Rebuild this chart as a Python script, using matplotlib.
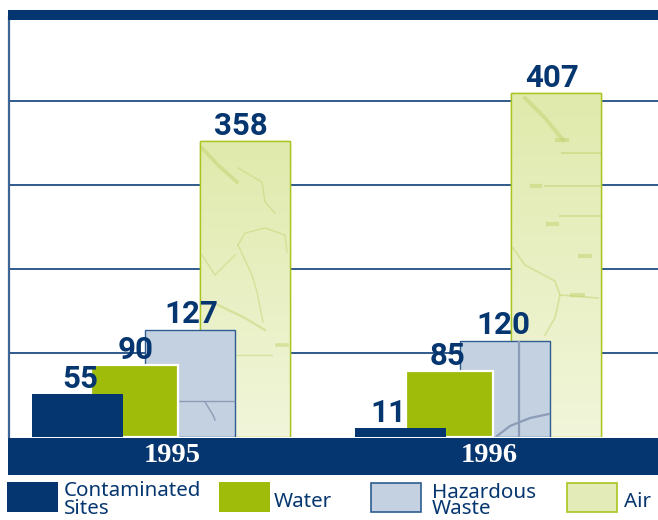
import matplotlib
matplotlib.use("Agg")
import matplotlib.pyplot as plt
import numpy as np
from matplotlib.colors import to_rgb
from matplotlib.patches import Rectangle
from matplotlib.transforms import Affine2D

years = ["1995", "1996"]
series_names = ["Air", "Hazardous Waste", "Water", "Contaminated Sites"]
labels_air = [358, 407]
labels_hazard = [127, 120]
labels_water = [90, 85]
labels_sites = [55, 11]
# bar heights as measured on the picture's gridlines (gridlines every 100)
heights_air = [352, 410]
heights_hazard = [127, 114]
heights_water = [86, 79]
heights_sites = [51, 11]

W, H = 658, 520
NAVY = "#06366f"
GREEN = "#a0bc0a"
fig = plt.figure(figsize=(W / 100, H / 100), dpi=100, facecolor="white")
L, R, T, B = 9, 658, 17, 437
ax = fig.add_axes([L / W, 1 - B / H, (R - L) / W, (B - T) / H])
ax.set_xlim(L, R)
ax.set_ylim(0, 500)
ax.set_xticks([])
ax.set_yticks([100, 200, 300, 400])
ax.tick_params(left=False, labelleft=False)
ax.grid(axis="y", color="#0d3d78", lw=1.2)
ax.set_axisbelow(True)
for s in ["top", "right", "bottom"]:
    ax.spines[s].set_visible(False)
ax.spines["left"].set_color("#3d6597")
ax.spines["left"].set_linewidth(1.6)

styles = [
    ("air", heights_air, labels_air, [245, 556], 90, "#e3ecb9", "#aac520", 1.0, 3),
    ("haz", heights_hazard, labels_hazard, [190, 505], 90, "#c4d1e1", "#2f5c91", 1.0, 5),
    ("wat", heights_water, labels_water, [134.5, 449], 87, GREEN, "white", 1.6, 7),
    ("sit", heights_sites, labels_sites, [77.5, 400.5], 91, NAVY, NAVY, 0, 8),
]
label_x = {"air": [241, 552], "haz": [191, 503], "wat": [136, 448], "sit": [80, 388]}
label_off = {"air": 0, "haz": 1, "wat": 0, "sit": 0}
for key, hs, ls, xs, bw, fc, ec, lw, z in styles:
    bars = ax.bar(xs, hs, width=bw, color=fc, edgecolor=ec, linewidth=lw, zorder=z)
    if key == "air":
        top, bot = np.array(to_rgb("#e0eaac")), np.array(to_rgb("#f1f5da"))
        for b in bars:
            grad = np.linspace(top, bot, 64)[:, None, :]
            im = ax.imshow(grad, extent=(b.get_x(), b.get_x() + b.get_width(), 0, b.get_height()),
                           aspect="auto", zorder=z + 0.1, interpolation="bilinear")
            im.set_clip_path(b)
            ax.add_patch(Rectangle(b.get_xy(), b.get_width(), b.get_height(), fc="none",
                                   ec=ec, lw=lw, zorder=z + 0.8))
    for x, lx, h, v in zip(xs, label_x[key], hs, ls):
        ax.annotate(str(v), (lx, h), xytext=(0, label_off[key]), textcoords="offset points",
                    ha="center", va="bottom", color=NAVY, fontsize=22.5,
                    fontweight="bold", family="Roboto", zorder=10)

# faint map texture printed inside the bars (pixel coordinates, not data)
to_px = Affine2D().scale(1, -1).translate(0, H)
air_tex = [
    ([202, 218, 237], [148, 165, 182], 2.6), ([238, 262, 265, 275], [168, 182, 202, 213], 1),
    ([238, 245, 265, 285, 287], [245, 233, 228, 235, 252], 1),
    ([238, 252, 257, 263], [245, 275, 292, 322], 1), ([218, 245, 265], [305, 318, 330], 1.6),
    ([202, 215, 235], [255, 275, 255], 1), ([277, 287], [345, 345], 2.6), ([235, 272], [355, 355], 1),
    ([525, 545, 563], [98, 118, 140], 2.8), ([532, 540], [186, 186], 3), ([548, 557], [224, 224], 3),
    ([580, 590], [256, 256], 3), ([572, 583], [295, 295], 3), ([557, 567], [140, 140], 3),
    ([513, 525, 555, 560, 555, 545], [248, 265, 281, 295, 318, 335], 1.2), ([560, 598], [295, 298], 1.2),
    ([562, 600], [153, 153], 1.4), ([545, 600], [186, 186], 1.4), ([560, 600], [216, 216], 1.4),
]
for xs, ys, lw in air_tex:
    ax.plot(xs, ys, color="#c2d36f", lw=lw, alpha=0.5, transform=to_px, zorder=3.5)
haz_tex = [
    ([146, 234], [401, 401], 1), ([205, 213, 215], [402, 415, 420], 1),
    ([519, 519], [342, 436], 1.6), ([497, 510, 530, 549], [436, 426, 418, 414], 1.6),
]
for xs, ys, lw in haz_tex:
    ax.plot(xs, ys, color="#8c9cb6", lw=lw, transform=to_px, zorder=5.5)

def px_rect(x0, y0, x1, y1, **kw):
    fig.add_artist(Rectangle((x0 / W, 1 - y1 / H), (x1 - x0) / W, (y1 - y0) / H,
                             transform=fig.transFigure, **kw))

def px_text(x, y, s, **kw):
    fig.text(x / W, 1 - y / H, s, **kw)

px_rect(8, 10, 658, 20, fc=NAVY, ec="none")
px_rect(8, 438, 658, 475, fc=NAVY, ec="none")
for x, yr in zip([172, 489], years):
    px_text(x, 456, yr, ha="center", va="center", color="white", fontsize=20.5,
            fontweight="bold", family="Liberation Serif")

px_rect(7, 482, 58, 512, fc=NAVY, ec="none")
px_rect(219, 482, 270, 512, fc=GREEN, ec="none")
px_rect(370.5, 482.5, 420.5, 511.5, fc="#c4d1e1", ec="#2f5c91", lw=1.2)
px_rect(566.5, 482.5, 616.5, 511.5, fc="#e3ecb9", ec="#aac520", lw=1.2)
txt = dict(color=NAVY, fontsize=14.8, family="Noto Sans", va="center", ha="left")
px_text(64, 500, "Contaminated\nSites", linespacing=0.8, **txt)
px_text(274, 502, "Water", **txt)
px_text(432, 501, "Hazardous\nWaste", linespacing=0.8, **txt)
px_text(624, 502, "Air", **txt)

fig.savefig("out.png", dpi=100)
